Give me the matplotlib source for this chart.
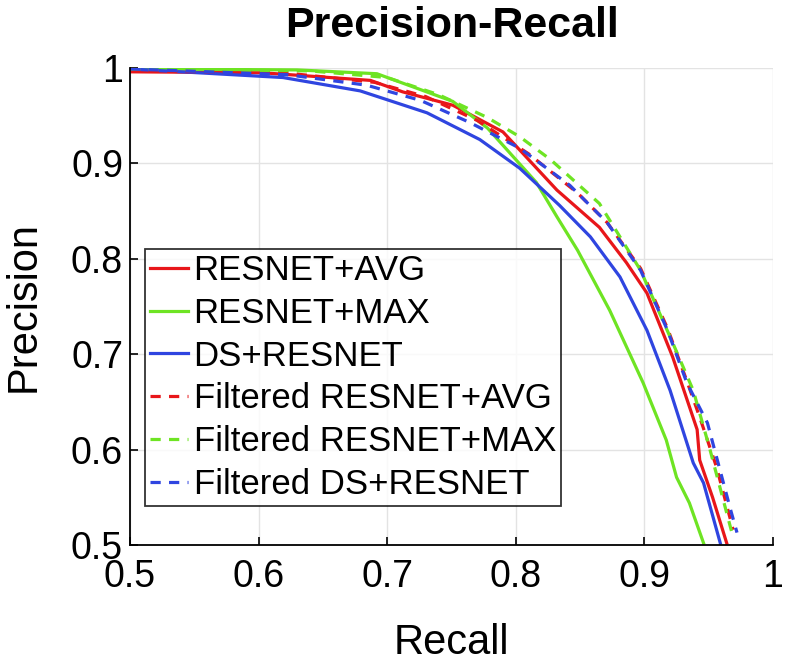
import matplotlib
matplotlib.use("Agg")
import matplotlib.pyplot as plt

plt.rcParams['font.family'] = ['Liberation Sans', 'DejaVu Sans']

# ---- data ----
avg_recall = [0.5, 0.603, 0.687, 0.712, 0.751, 0.790, 0.832, 0.865, 0.886, 0.902, 0.922, 0.941, 0.943, 0.953, 0.964]
avg_prec   = [0.996, 0.995, 0.987, 0.975, 0.961, 0.933, 0.872, 0.833, 0.796, 0.764, 0.697, 0.621, 0.589, 0.550, 0.502]

max_recall = [0.5, 0.63, 0.692, 0.751, 0.778, 0.816, 0.832, 0.848, 0.873, 0.899, 0.917, 0.925, 0.935, 0.946]
max_prec   = [0.999, 0.998, 0.994, 0.965, 0.937, 0.880, 0.844, 0.809, 0.746, 0.670, 0.610, 0.571, 0.544, 0.502]

ds_recall = [0.5, 0.619, 0.679, 0.731, 0.772, 0.803, 0.834, 0.858, 0.881, 0.902, 0.920, 0.938, 0.946, 0.959]
ds_prec   = [0.999, 0.990, 0.976, 0.953, 0.925, 0.895, 0.856, 0.823, 0.781, 0.725, 0.662, 0.586, 0.565, 0.502]

favg_recall = [0.5, 0.62, 0.69, 0.73, 0.77, 0.81, 0.848, 0.871, 0.897, 0.918, 0.933, 0.943, 0.956, 0.969]
favg_prec   = [0.997, 0.995, 0.985, 0.970, 0.945, 0.910, 0.869, 0.838, 0.790, 0.727, 0.672, 0.634, 0.582, 0.516]

fmax_recall = [0.5, 0.64, 0.70, 0.74, 0.778, 0.803, 0.827, 0.865, 0.897, 0.922, 0.938, 0.951, 0.969]
fmax_prec   = [0.999, 0.997, 0.990, 0.972, 0.948, 0.928, 0.904, 0.858, 0.788, 0.712, 0.662, 0.600, 0.508]

fds_recall = [0.5, 0.622, 0.684, 0.726, 0.764, 0.803, 0.842, 0.871, 0.897, 0.918, 0.933, 0.949, 0.967, 0.972]
fds_prec   = [0.999, 0.993, 0.982, 0.966, 0.943, 0.916, 0.877, 0.838, 0.788, 0.725, 0.670, 0.628, 0.537, 0.513]

labels = ["RESNET+AVG", "RESNET+MAX", "DS+RESNET",
          "Filtered RESNET+AVG", "Filtered RESNET+MAX", "Filtered DS+RESNET"]
tick_vals = [0.5, 0.6, 0.7, 0.8, 0.9, 1.0]
tick_labels = ["0.5", "0.6", "0.7", "0.8", "0.9", "1"]

RED = '#e8161a'
GREEN = '#6ee423'
BLUE = '#2f45e0'

fig = plt.figure(figsize=(7.9, 6.65), dpi=100)
ax = fig.add_axes([130/790, 120/665, 643/790, 477/665])

lw = 2.3
dash = (3.2, 2.6)
ax.plot(avg_recall, avg_prec, color=RED, lw=lw, label=labels[0])
ax.plot(max_recall, max_prec, color=GREEN, lw=lw, label=labels[1])
ax.plot(ds_recall, ds_prec, color=BLUE, lw=lw, label=labels[2])
ax.plot(favg_recall, favg_prec, color=RED, lw=lw, ls=(0, dash), label=labels[3])
ax.plot(fmax_recall, fmax_prec, color=GREEN, lw=lw, ls=(0, dash), label=labels[4])
ax.plot(fds_recall, fds_prec, color=BLUE, lw=lw, ls=(0, dash), label=labels[5])

ax.set_xlim(0.5, 1.0)
ax.set_ylim(0.5, 1.0)
ax.set_xticks(tick_vals)
ax.set_xticklabels(tick_labels)
ax.set_yticks(tick_vals)
ax.set_yticklabels(tick_labels)
ax.grid(True, color='#e3e3e3', lw=1.0)
ax.set_axisbelow(True)
for s in ['top', 'right']:
    ax.spines[s].set_visible(False)
for s in ['left', 'bottom']:
    ax.spines[s].set_linewidth(1.3)
ax.tick_params(direction='in', length=6, width=1.2, labelsize=27)
ax.tick_params(axis='x', pad=10)
ax.tick_params(axis='y', pad=5)

ax.set_title("Precision-Recall", fontsize=31, fontweight='bold', pad=22)
ax.set_xlabel("Recall", fontsize=30, labelpad=20)
ax.set_ylabel("Precision", fontsize=30, labelpad=20)

leg = ax.legend(loc='lower left', bbox_to_anchor=(15/643, 39/477), fontsize=25,
                frameon=True, fancybox=False, edgecolor='black',
                handlelength=1.1, handletextpad=0.15, labelspacing=0.28,
                borderpad=0.15, borderaxespad=0.0)
leg.get_frame().set_linewidth(1.3)

fig.savefig("out.png", dpi=100)
